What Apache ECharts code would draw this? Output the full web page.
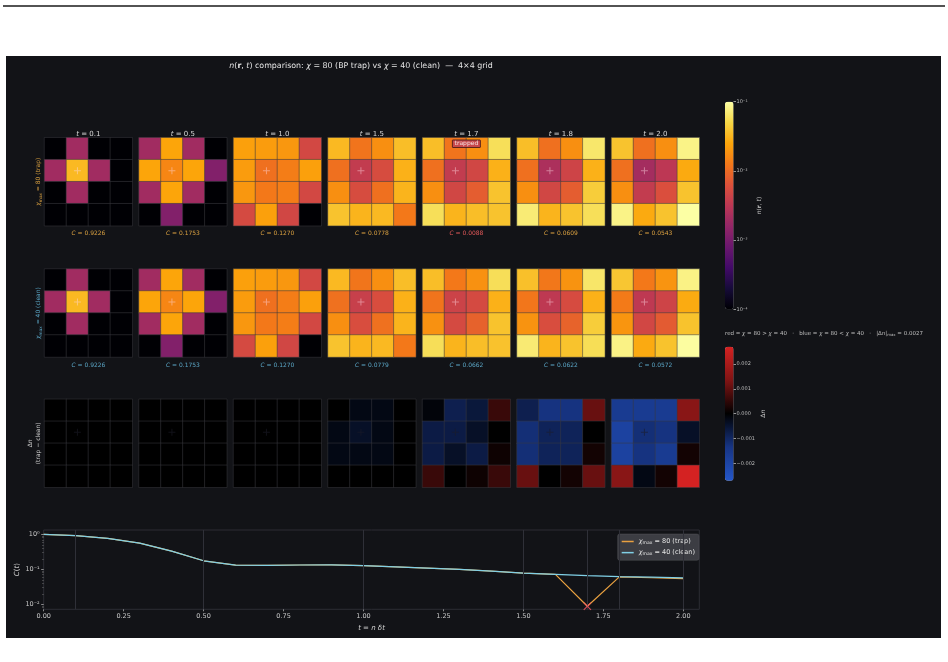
<!DOCTYPE html>
<html><head><meta charset="utf-8">
<script src="https://cdn.jsdelivr.net/npm/echarts@6/dist/echarts.min.js"></script>
<style>html,body{margin:0;padding:0;background:#fff;}#c{width:948px;height:662px;}</style>
</head><body><div id="c"></div>
<script>
// ---------------- DATA ----------------
const snapTimes = [0.1, 0.5, 1.0, 1.5, 1.7, 1.8, 2.0];
const trappedTime = 1.7;
const centerSite = [1, 1];
const times  = [0.0,0.1,0.2,0.3,0.4,0.5,0.6,0.7,0.8,0.9,1.0,1.1,1.2,1.3,1.4,1.5,1.6,1.7,1.8,1.9,2.0];
const cTrap  = [1.0,0.9226,0.77,0.56,0.33,0.1753,0.131,0.129,0.133,0.134,0.1270,0.117,0.108,0.099,0.089,0.0778,0.072,0.0088,0.0609,0.0575,0.0543];
const cClean = [1.0,0.9226,0.77,0.56,0.33,0.1753,0.131,0.129,0.133,0.134,0.1270,0.117,0.108,0.099,0.089,0.0779,0.072,0.0662,0.0622,0.0595,0.0572];
const xTickStep = 0.25, xTickLast = 2.0;
const cLogTicks = [-2, -1, 0];
const dTicks = [-0.002, -0.001, 0, 0.001, 0.002];

// n(r,t) 4x4 snapshots (rows top->bottom), chi=80 (trap)
const nTrap = [
  [[0,0.002,0,0],[0.002,0.033,0.002,0],[0,0.002,0,0],[0,0,0,0]],
  [[0.002,0.025,0.002,0],[0.025,0.0155,0.025,0.0012],[0.002,0.025,0.002,0],[0,0.0012,0,0]],
  [[0.0234,0.0219,0.0204,0.005],[0.0219,0.011,0.0135,0.0234],[0.0204,0.0126,0.0135,0.005],[0.0052,0.0234,0.0048,0]],
  [[0.0331,0.0118,0.0178,0.0355],[0.011,0.0036,0.0055,0.0295],[0.0178,0.0055,0.011,0.0309],[0.038,0.0309,0.0331,0.0126]],
  [[0.0355,0.0118,0.0178,0.0575],[0.011,0.0036,0.0048,0.0295],[0.0178,0.0048,0.0078,0.038],[0.0575,0.0309,0.0355,0.038]],
  [[0.0355,0.011,0.0178,0.066],[0.011,0.0024,0.0045,0.0295],[0.0178,0.0048,0.0078,0.0437],[0.0708,0.0309,0.038,0.0575]],
  [[0.038,0.011,0.0178,0.081],[0.011,0.0021,0.0032,0.0269],[0.0178,0.0036,0.0059,0.038],[0.081,0.0269,0.038,0.1]]
];
// chi=40 (clean)
const nClean = [
  [[0,0.002,0,0],[0.002,0.033,0.002,0],[0,0.002,0,0],[0,0,0,0]],
  [[0.002,0.025,0.002,0],[0.025,0.0155,0.025,0.0012],[0.002,0.025,0.002,0],[0,0.0012,0,0]],
  [[0.0234,0.0219,0.0204,0.005],[0.0219,0.011,0.0135,0.0234],[0.0204,0.0126,0.0135,0.005],[0.0052,0.0234,0.0048,0]],
  [[0.0331,0.012,0.018,0.0355],[0.0112,0.004,0.0057,0.0295],[0.018,0.0057,0.0112,0.0309],[0.038,0.0309,0.0331,0.0126]],
  [[0.0355,0.0126,0.0184,0.057],[0.0117,0.0043,0.0052,0.0295],[0.0185,0.0052,0.0085,0.0378],[0.057,0.0309,0.0353,0.0374]],
  [[0.0363,0.0123,0.0191,0.065],[0.0122,0.0033,0.0054,0.0295],[0.019,0.0057,0.0087,0.0435],[0.0697,0.0309,0.0378,0.0564]],
  [[0.0396,0.0126,0.0194,0.0795],[0.0129,0.0033,0.0045,0.0273],[0.0197,0.0049,0.0075,0.0378],[0.0795,0.0271,0.0378,0.0973]]
];
// Delta n = trap - clean
const dN = [
  [[0,0,0,0],[0,0,0,0],[0,0,0,0],[0,0,0,0]],
  [[0,0,0,0],[0,0,0,0],[0,0,0,0],[0,0,0,0]],
  [[0,0,0,0],[0,0,0,0],[0,0,0,0],[0,0,0,0]],
  [[0,-0.0002,-0.0002,0],[-0.0002,-0.0004,-0.0002,0],[-0.0002,-0.0002,-0.0002,0],[0,0,0,0]],
  [[-0.0001,-0.0008,-0.0006,0.0006],[-0.0007,-0.0007,-0.0004,0],[-0.0007,-0.0004,-0.0007,0.00015],[0.0006,0,0.00015,0.0006]],
  [[-0.0008,-0.0013,-0.0013,0.0011],[-0.0012,-0.0009,-0.0009,0],[-0.0012,-0.0009,-0.0009,0.0002],[0.0011,0,0.0002,0.0011]],
  [[-0.0016,-0.0016,-0.0016,0.0015],[-0.0019,-0.0012,-0.0013,-0.0004],[-0.0019,-0.0013,-0.0016,0.0002],[0.0015,-0.0002,0.0002,0.0027]]
];

// ---------------- STYLE / LAYOUT ----------------
const FONT = 'DejaVu Sans';
const BG = '#121317';
const inferno = ['#000004','#160b39','#420a68','#6a176e','#932667','#bc3754','#dd513a','#f37819','#fca50a','#f6d746','#fcffa4'];
const diverg = ['#2456c8','#173585','#000000','#801414','#d42222'];
const TRAP_COL = '#e8a040', CLEAN_COL = '#80d0e6';
const PX0 = 44.5, PSTEP = 94.5, PW = 87.8, ROWTOP = [137.7, 269, 399.3], PH = 88;

const supMap = {'-':'⁻','0':'⁰','1':'¹','2':'²','3':'³','4':'⁴'};
const pow10Label = v => '10' + String(Math.round(v)).split('').map(ch => supMap[ch]).join('');
const idxOfTime = t => times.findIndex(x => Math.abs(x - t) < 1e-9);
const dMax = Math.max(...dN.flat(2).map(Math.abs));
const richBase = (size, color) => ({
  i: {fontStyle:'italic', fontSize:size, color:color, fontFamily:FONT},
  s: {fontSize:size*0.7, color:color, fontFamily:FONT, verticalAlign:'bottom', padding:[size*0.35,0,0,0]},
  b: {fontWeight:'bold', fontSize:size, color:color, fontFamily:FONT}
});
const plusPath = 'path://M3,0H4V3H7V4H4V7H3V4H0V3H3Z';
const xPath = 'path://M1,0L5,4L9,0L10,1L6,5L10,9L9,10L5,6L1,10L0,9L4,5L0,1Z';
const noLine = {show:false, onZero:false};

const grids = [], xAxes = [], yAxes = [], series = [];
const nSeries = [], dSeries = [];
const rowLabels = ['{i|χ}{s|max} = 80 (trap)', '{i|χ}{s|max} = 40 (clean)', 'Δ{i|n}\n(trap − clean)'];
const rowColors = ['#d9a040', '#5aa5c5', '#cfcfcf'];
const hid = {axisLine:noLine, axisTick:{show:false}, axisLabel:{show:false}, splitLine:{show:false}, nameMoveOverlap:false};

for (let r = 0; r < 3; r++) {
  for (let c = 0; c < snapTimes.length; c++) {
    const gi = grids.length;
    grids.push({left: PX0 + c*PSTEP, top: ROWTOP[r], width: PW, height: PH, containLabel:false});
    let cName = '', cCol = '#ccc';
    if (r < 2) {
      const arr = r === 0 ? cTrap : cClean;
      const v = arr[idxOfTime(snapTimes[c])];
      cName = '{i|C} = ' + v.toFixed(4);
      cCol = rowColors[r];
      if (r === 0 && Math.abs(snapTimes[c] - trappedTime) < 1e-9) cCol = '#e05858';
    }
    const xi = xAxes.length;
    xAxes.push(Object.assign({gridIndex:gi, type:'category', data:[0,1,2,3], position:'bottom',
      name:cName, nameLocation:'middle', nameGap:5,
      nameTextStyle:{color:cCol, fontSize:6, fontFamily:FONT, rich:richBase(6, cCol)}}, hid));
    if (r === 0) {
      xAxes.push(Object.assign({gridIndex:gi, type:'category', data:[0,1,2,3], position:'top',
        name:'{i|t} = ' + snapTimes[c].toFixed(1), nameLocation:'middle', nameGap:0,
        nameTextStyle:{color:'#d8d8d8', fontSize:7, fontFamily:FONT, rich:richBase(7, '#d8d8d8')}}, hid));
    }
    const yi = yAxes.length;
    yAxes.push(Object.assign({gridIndex:gi, type:'category', data:[0,1,2,3], inverse:true,
      name: c === 0 ? rowLabels[r] : '', nameLocation:'middle', nameRotate:90, nameGap:2,
      nameTextStyle:{color:rowColors[r], fontSize:6, fontFamily:FONT, lineHeight:8, rich:richBase(6, rowColors[r])}}, hid));
    const M = r === 0 ? nTrap[c] : (r === 1 ? nClean[c] : dN[c]);
    const data = [];
    for (let i = 0; i < 4; i++) for (let j = 0; j < 4; j++) {
      const v = M[i][j];
      data.push([j, i, r < 2 ? Math.log10(Math.max(v, 1e-4)) : v]);
    }
    (r < 2 ? nSeries : dSeries).push(series.length);
    series.push({type:'heatmap', xAxisIndex:xi, yAxisIndex:yi, data:data, silent:true,
      itemStyle:{borderColor:'rgba(60,60,66,0.5)', borderWidth:1}, emphasis:{disabled:true}});
    series.push({type:'scatter', xAxisIndex:xi, yAxisIndex:yi, data:[centerSite], silent:true,
      symbol:plusPath, symbolSize:7, z:5,
      itemStyle:{color: r < 2 ? 'rgba(255,215,225,0.6)' : 'rgba(28,28,40,0.75)'}});
  }
}

// colorbar axes (n)
let g = grids.length;
grids.push({left:725, top:101.7, width:8.5, height:207.6});
xAxes.push({gridIndex:g, type:'value', min:0, max:1, show:false, axisLine:noLine});
yAxes.push({gridIndex:g, type:'value', position:'right', min:-4, max:-1, interval:1, nameMoveOverlap:false,
  axisLine:noLine, splitLine:{show:false},
  axisTick:{show:true, length:2.5, lineStyle:{color:'#bbb', width:0.8}},
  axisLabel:{color:'#bbb', fontSize:5, fontFamily:FONT, margin:3, formatter:v => pow10Label(v)},
  name:'{i|n}({b|r}, {i|t})', nameLocation:'middle', nameRotate:90, nameGap:23,
  nameTextStyle:{color:'#cfcfcf', fontSize:6, fontFamily:FONT, rich:richBase(6,'#cfcfcf')}});
// colorbar axes (delta n)
g = grids.length;
grids.push({left:725, top:346.7, width:8.5, height:134});
xAxes.push({gridIndex:g, type:'value', min:0, max:1, show:false, axisLine:noLine});
yAxes.push({gridIndex:g, type:'value', position:'right', min:-dMax, max:dMax, nameMoveOverlap:false,
  axisLine:noLine, splitLine:{show:false},
  axisTick:{show:true, length:2.5, customValues:dTicks, lineStyle:{color:'#bbb', width:0.8}},
  axisLabel:{color:'#bbb', fontSize:5, fontFamily:FONT, margin:3, customValues:dTicks,
    formatter:v => (v < 0 ? '−' : '') + Math.abs(v).toFixed(3)},
  name:'Δ{i|n}', nameLocation:'middle', nameRotate:90, nameGap:27,
  nameTextStyle:{color:'#cfcfcf', fontSize:6, fontFamily:FONT, rich:richBase(6,'#cfcfcf')}});

// line chart
g = grids.length;
grids.push({left:43.7, top:530, width:655.6, height:79.3, show:true, borderColor:'#2c2d34', borderWidth:1, backgroundColor:'transparent'});
const lxi = xAxes.length;
xAxes.push({gridIndex:g, type:'value', position:'bottom', min:0, max:2.05, interval:xTickStep, nameMoveOverlap:false,
  axisLine:noLine, splitLine:{show:false},
  axisTick:{show:true, length:2, lineStyle:{color:'#aaa', width:0.8}},
  axisLabel:{color:'#c8c8c8', fontSize:6.5, fontFamily:FONT, margin:4, showMaxLabel:false,
    formatter:v => v > xTickLast + 1e-9 ? '' : v.toFixed(2)},
  name:'{i|t} = {i|n} {i|δt}', nameLocation:'middle', nameGap:15,
  nameTextStyle:{color:'#d0d0d0', fontSize:7, fontFamily:FONT, rich:richBase(7,'#d0d0d0')}});
const lyi = yAxes.length;
const yMin = Math.log10(0.0072), yMax = Math.log10(1.33);
yAxes.push({gridIndex:g, type:'value', position:'left', min:yMin, max:yMax, nameMoveOverlap:false,
  axisLine:noLine, splitLine:{show:false},
  axisTick:{show:true, length:2.5, customValues:cLogTicks, lineStyle:{color:'#aaa', width:0.8}},
  axisLabel:{color:'#c8c8c8', fontSize:6.5, fontFamily:FONT, margin:4, customValues:cLogTicks, formatter:v => pow10Label(v)},
  name:'{i|C}({i|t})', nameLocation:'middle', nameRotate:90, nameGap:23,
  nameTextStyle:{color:'#d0d0d0', fontSize:7, fontFamily:FONT, rich:richBase(7,'#d0d0d0')}});
const minorVals = [];
[-3,-2,-1,0].forEach(m => { for (let k = 2; k <= 9; k++) { const v = Math.log10(k) + m; if (v > yMin && v < yMax) minorVals.push(v); } });
yAxes.push({gridIndex:g, type:'value', position:'left', min:yMin, max:yMax,
  axisLine:noLine, splitLine:{show:false}, axisLabel:{show:false},
  axisTick:{show:true, length:1.5, customValues:minorVals, lineStyle:{color:'#777', width:0.6}}});

series.push({type:'line', name:'trap', xAxisIndex:lxi, yAxisIndex:lyi, symbol:'none', silent:true,
  data:times.map((t,i)=>[t, Math.log10(cTrap[i])]), lineStyle:{color:TRAP_COL, width:1.2}, itemStyle:{color:TRAP_COL}, z:3});
series.push({type:'line', name:'clean', xAxisIndex:lxi, yAxisIndex:lyi, symbol:'none', silent:true,
  data:times.map((t,i)=>[t, Math.log10(cClean[i])]), lineStyle:{color:CLEAN_COL, width:1.2}, itemStyle:{color:CLEAN_COL}, z:4});
series.push({type:'scatter', xAxisIndex:lxi, yAxisIndex:lyi, silent:true, symbol:xPath, symbolSize:8, z:6,
  data:[[trappedTime, Math.log10(cTrap[idxOfTime(trappedTime)])]], itemStyle:{color:'#ff5a68'}});
// snapshot-time guide lines on a helper series
series.push({type:'line', name:'guides', xAxisIndex:lxi, yAxisIndex:lyi, data:[], silent:true, z:1,
  markLine:{silent:true, symbol:['none','none'], label:{show:false}, animation:false,
    lineStyle:{color:'#2f3038', width:1, type:'solid'}, data:snapTimes.map(t => ({xAxis:t}))}});

const option = {
  backgroundColor:'#ffffff',
  animation:false,
  textStyle:{fontFamily:FONT},
  grid:grids, xAxis:xAxes, yAxis:yAxes, series:series,
  visualMap:[
    {type:'continuous', seriesIndex:nSeries, dimension:2, min:-4, max:-1, inRange:{color:inferno},
      left:725, top:101.7, itemWidth:8.5, itemHeight:207.6, padding:0, calculable:false, hoverLink:false,
      orient:'vertical', text:null, showLabel:false, indicatorSize:0, textStyle:{color:'rgba(0,0,0,0)', fontSize:1}},
    {type:'continuous', seriesIndex:dSeries, dimension:2, min:-dMax, max:dMax, inRange:{color:diverg},
      left:725, top:346.7, itemWidth:8.5, itemHeight:134, padding:0, calculable:false, hoverLink:false,
      orient:'vertical', text:null, showLabel:false, indicatorSize:0, textStyle:{color:'rgba(0,0,0,0)', fontSize:1}}
  ],
  legend:{data:[{name:'trap', icon:'rect'},{name:'clean', icon:'rect'}], left:617.7, top:534, orient:'vertical', padding:[4,4,4,4], itemGap:4,
    itemWidth:12, itemHeight:1.5, backgroundColor:'rgba(64,65,72,0.92)', borderColor:'rgba(95,95,100,0.8)',
    borderWidth:0.5, borderRadius:2, selectedMode:false,
    textStyle:{color:'#e4e4e4', fontSize:6.5, fontFamily:FONT, rich:richBase(6.5,'#e4e4e4')},
    formatter:name => name === 'trap' ? '{i|χ}{s|max} = 80 (trap)' : '{i|χ}{s|max} = 40 (clean)'},
  graphic:[
    {type:'rect', z:-10, silent:true, shape:{x:6, y:56, width:935, height:582}, style:{fill:BG}},
    {type:'line', silent:true, shape:{x1:3, y1:6, x2:945, y2:6}, style:{stroke:'#1a1a1a', lineWidth:1.3}},
    {type:'text', silent:true, x:361, y:66, z:10, style:{
      text:'{i|n}({b|r}, {i|t}) comparison: {i|χ} = 80 (BP trap) vs {i|χ} = 40 (clean)  —  4×4 grid',
      fill:'#e4e4e4', fontSize:7.9, fontFamily:FONT, align:'center', verticalAlign:'middle',
      textAlign:'center', textVerticalAlign:'middle', rich:richBase(7.9,'#e4e4e4')}},
    {type:'text', silent:true, x:725, y:333.5, z:10, style:{
      text:'red = {i|χ} = 80 > {i|χ} = 40   ·   blue = {i|χ} = 80 < {i|χ} = 40   ·   |Δ{i|n}|{s|max} = ' + dMax.toFixed(4),
      fill:'#bdbdbd', fontSize:5.5, fontFamily:FONT, align:'left', verticalAlign:'middle',
      textAlign:'left', textVerticalAlign:'middle', rich:richBase(5.5,'#bdbdbd')}},
    {type:'rect', silent:true, z:20, shape:{x:PX0 + snapTimes.indexOf(trappedTime)*PSTEP + PW/2 - 14, y:140, width:28, height:7.5, r:0.5},
      style:{fill:'#c8484c', stroke:'#3a1416', lineWidth:0.8}},
    {type:'text', silent:true, z:21, x:PX0 + snapTimes.indexOf(trappedTime)*PSTEP + PW/2, y:143.9, style:{
      text:'trapped', fill:'#f4e4e4', fontSize:6, fontFamily:FONT, align:'center', verticalAlign:'middle',
      textAlign:'center', textVerticalAlign:'middle'}}
  ]
};
const chart = echarts.init(document.getElementById('c'), null, {renderer:'canvas'});
chart.setOption(option);
</script></body></html>
